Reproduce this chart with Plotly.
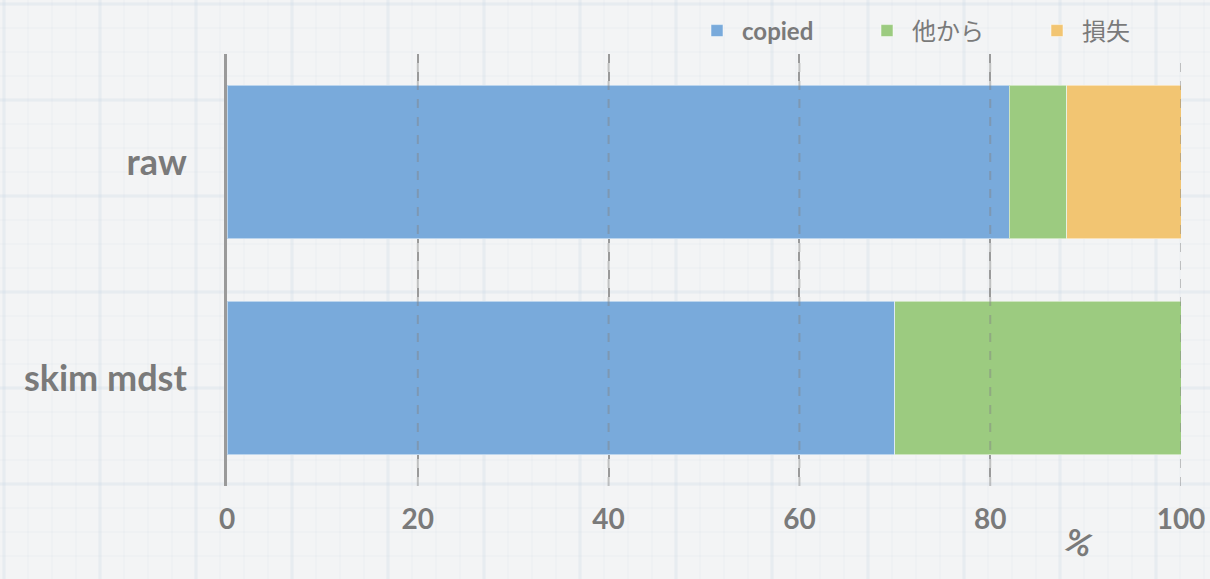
import plotly.graph_objects as go

categories = ["raw", "skim mdst"]
series_names = ["copied", "他から", "損失"]
copied = [82, 70]
from_other = [6, 30]
lost = [12, 0]
tick_vals = [0, 20, 40, 60, 80, 100]
axis_title = "%"

colors = ["#79aadb", "#9ccb80", "#f2c572"]
font_fam = "Lato, 'Noto Sans CJK JP', sans-serif"
grey = "#7a7a7a"

fig = go.Figure()
for name, vals, col in zip(series_names, [copied, from_other, lost], colors):
    label = "<b>%s</b>" % name if name.isascii() else name
    fig.add_trace(go.Bar(
        y=categories, x=vals, name=label, orientation="h",
        marker=dict(color=col, line=dict(color="rgba(255,255,255,0.5)", width=1)),
    ))

W, H = 1210, 579
L, R, T, B = 227, 29, 54, 93
pw, ph = W - L - R, H - T - B

shapes = []
# faint graph-paper background texture
for i, px in enumerate(range(4, W + 1, 24)):
    xp = (px - L) / pw
    shapes.append(dict(type="line", xref="paper", yref="paper", x0=xp, x1=xp,
                       y0=-B / ph - 0.05, y1=(H - B) / ph + 0.05, layer="below",
                       line=dict(color="rgba(195,210,228,%s)" % (0.25 if i % 4 == 0 else 0.11),
                                 width=3 if i % 4 == 0 else 1)))
for i, py in enumerate(range(4, H + 1, 24)):
    yp = (H - B - py) / ph
    shapes.append(dict(type="line", xref="paper", yref="paper", y0=yp, y1=yp,
                       x0=-L / pw - 0.05, x1=(W - L) / pw + 0.05, layer="below",
                       line=dict(color="rgba(195,210,228,%s)" % (0.25 if i % 4 == 0 else 0.11),
                                 width=3 if i % 4 == 0 else 1)))
# dashed grid drawn faintly over bars too
for v in tick_vals[1:]:
    shapes.append(dict(type="line", xref="x", yref="paper", x0=v, x1=v, y0=0, y1=1,
                       layer="above", line=dict(color="rgba(130,130,130,0.45)", width=2, dash="dash")))

fig.update_layout(
    width=W, height=H,
    barmode="stack", bargap=0.29,
    paper_bgcolor="#f3f4f5", plot_bgcolor="rgba(0,0,0,0)",
    margin=dict(l=L, r=R, t=T, b=B, autoexpand=False),
    font=dict(family=font_fam, color=grey),
    shapes=shapes,
    legend=dict(orientation="h", x=692 / W, xanchor="left", xref="container",
                y=1 - 31 / H, yanchor="middle", yref="container",
                font=dict(size=24, color=grey, family=font_fam),
                traceorder="normal", itemwidth=40, entrywidth=115,
                bgcolor="rgba(0,0,0,0)"),
    xaxis=dict(range=[0, 100], tickvals=tick_vals, showgrid=True,
               gridcolor="#9a9a9a", griddash="dash", gridwidth=2,
               zeroline=False, showline=False,
               tickfont=dict(size=28, color=grey, family=font_fam, weight="bold"),
               ticks="", ticklabelstandoff=14),
    yaxis=dict(autorange="reversed", showline=True, linecolor="#9a9a9a", linewidth=3,
               showgrid=False, zeroline=False, ticks="",
               tickfont=dict(size=36, color=grey, family=font_fam, weight="bold"),
               ticklabelstandoff=30),
    annotations=[dict(text="<b>%s</b>" % axis_title, xref="paper", yref="paper",
                      x=(1100 - L) / pw, y=(H - B - 567) / ph, showarrow=False,
                      textangle=20, font=dict(size=32, color=grey, family=font_fam))],
)

fig.write_html("out.html", config={"displayModeBar": False},
               post_script="document.body.style.margin='0';")
